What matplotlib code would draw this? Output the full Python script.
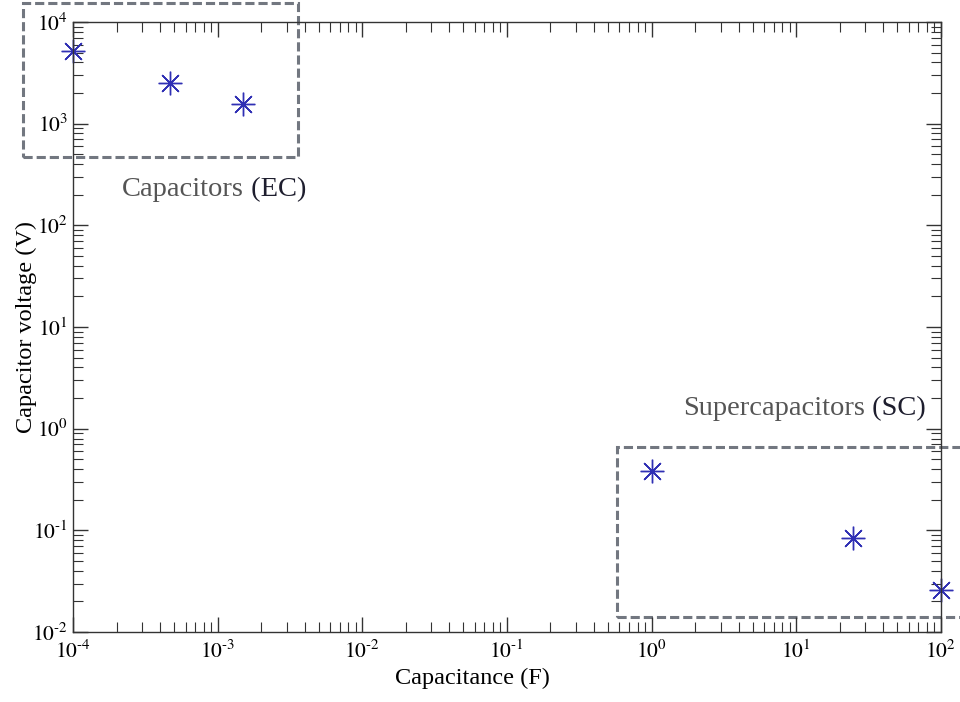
import matplotlib
matplotlib.use("Agg")
import matplotlib.pyplot as plt
from matplotlib.patches import Rectangle
from matplotlib.ticker import LogLocator, NullFormatter, FuncFormatter
import numpy as np

# capacitance (F) and voltage (V)
ec_capacitance = [1.0e-4, 4.7e-4, 1.5e-3]
ec_voltage = [5200, 2500, 1550]
sc_capacitance = [1.0, 24.8, 100.0]
sc_voltage = [0.38, 0.085, 0.026]

# dashed group boxes (x0, x1, y0, y1) in data units
ec_box = (10 ** -4.348, 10 ** -2.443, 10 ** 2.676, 10 ** 4.184)
sc_box = (10 ** -0.238, 10 ** 2.5, 10 ** -1.848, 10 ** -0.176)

plt.rcParams["font.family"] = ["Liberation Serif", "DejaVu Serif"]
plt.rcParams["mathtext.fontset"] = "stix"


def pow10(v, pos):
    # hyphen instead of the long minus, like the original figure
    e = int(round(np.log10(v)))
    if e < 0:
        return r"$10^{\text{-}%d}$" % (-e)
    return r"$10^{%d}$" % e


fig = plt.figure(figsize=(9.6, 7.02), dpi=100)
ax = fig.add_axes([0.076, 0.0997, 0.904, 0.869])

marker_style = dict(marker=(8, 2, 0), markersize=17, linestyle="none",
                    markeredgewidth=1.0, color="#3030b4")
ax.plot(ec_capacitance, ec_voltage, **marker_style, clip_on=False)
ax.plot(sc_capacitance, sc_voltage, **marker_style, clip_on=False)

ax.set_xscale("log")
ax.set_yscale("log")
ax.set_xlim(1e-4, 1e2)
ax.set_ylim(1e-2, 1e4)

for box in (ec_box, sc_box):
    x0, x1, y0, y1 = box
    ax.add_patch(Rectangle((x0, y0), x1 - x0, y1 - y0, fill=False,
                           edgecolor="#727780", linewidth=2.2,
                           linestyle=(0, (3, 1.3)), clip_on=False, zorder=1))

ax.xaxis.set_major_locator(LogLocator(base=10, numticks=10))
ax.yaxis.set_major_locator(LogLocator(base=10, numticks=10))
ax.xaxis.set_minor_locator(LogLocator(base=10, subs=range(2, 10), numticks=20))
ax.yaxis.set_minor_locator(LogLocator(base=10, subs=range(2, 10), numticks=20))
ax.xaxis.set_major_formatter(FuncFormatter(pow10))
ax.yaxis.set_major_formatter(FuncFormatter(pow10))
ax.xaxis.set_minor_formatter(NullFormatter())
ax.yaxis.set_minor_formatter(NullFormatter())

ax.tick_params(which="both", direction="in", top=True, right=True,
               color="#333333", labelsize=15.5)
ax.tick_params(which="major", length=11, width=1)
ax.tick_params(which="minor", length=7, width=0.8)
ax.tick_params(axis="x", pad=6)
for s in ax.spines.values():
    s.set_color("#333333")
    s.set_linewidth(1)

ax.set_xlabel("Capacitance (F)", fontsize=17.5)
ax.set_ylabel("Capacitor voltage (V)", fontsize=17.5)
ax.xaxis.set_label_coords(0.46, -0.058)
ax.yaxis.set_label_coords(-0.041, 0.5)

# group labels: name in grey, abbreviation darker
t1 = ax.text(0.0565, 0.7246, "Capacitors", transform=ax.transAxes,
             fontsize=20.5, color="#555555", va="center", ha="left")
ax.annotate(" (EC)", xy=(1, 0), xycoords=t1, va="bottom", ha="left",
            fontsize=20.5, color="#1e1e2e")
t2 = ax.text(0.703, 0.367, "Supercapacitors", transform=ax.transAxes,
             fontsize=20.5, color="#555555", va="center", ha="left")
ax.annotate(" (SC)", xy=(1, 0), xycoords=t2, va="bottom", ha="left",
            fontsize=20.5, color="#1e1e2e")

fig.savefig("out.png", dpi=100)
